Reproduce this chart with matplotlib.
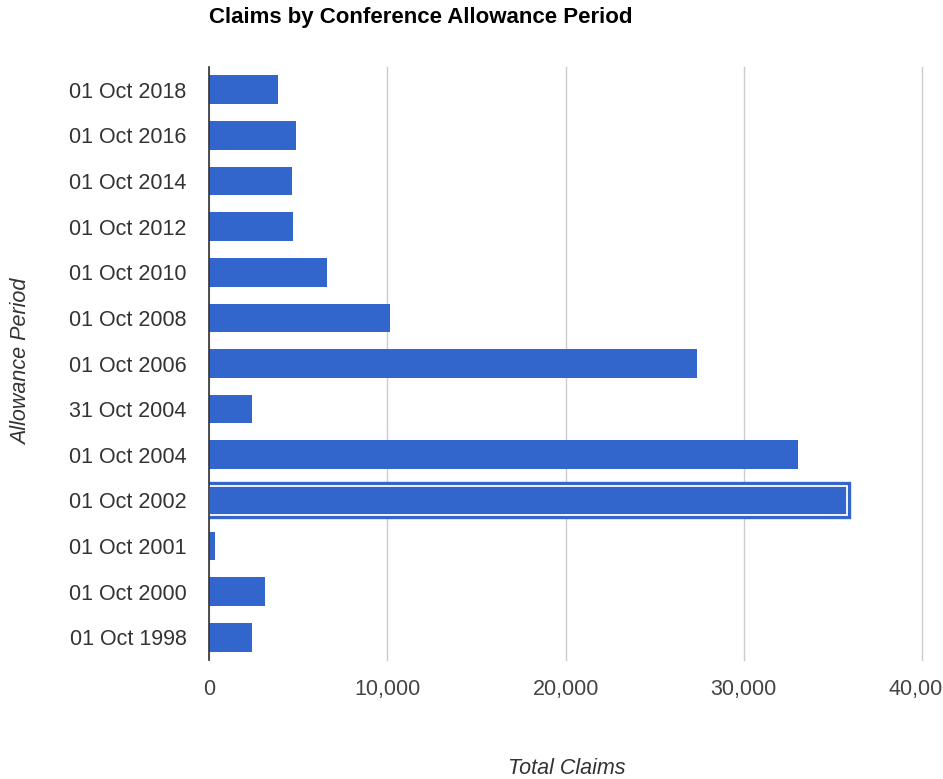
import matplotlib
matplotlib.use("Agg")
import matplotlib.pyplot as plt
import matplotlib.patheffects as pe
from matplotlib.ticker import FuncFormatter

categories = ["01 Oct 2018", "01 Oct 2016", "01 Oct 2014", "01 Oct 2012", "01 Oct 2010",
              "01 Oct 2008", "01 Oct 2006", "31 Oct 2004", "01 Oct 2004", "01 Oct 2002",
              "01 Oct 2001", "01 Oct 2000", "01 Oct 1998"]
claims = [3850, 4840, 4630, 4720, 6620, 10140, 27350, 2390, 33060, 35800, 320, 3120, 2390]
xticks = [0, 10000, 20000, 30000, 40000]
highlight = "01 Oct 2002"

plt.rcParams['font.family'] = ['Liberation Sans', 'DejaVu Sans']
blue = "#3366cc"
W, H = 943, 779

fig = plt.figure(figsize=(W / 100, H / 100), dpi=100)
ax = fig.add_axes([209.3 / W, 1 - 660 / H, (922 - 209.3) / W, (660 - 67) / H])

y = list(range(len(categories)))
bars = ax.barh(y, claims, height=0.63, color=blue, zorder=3)
for b, c in zip(bars, categories):
    if c == highlight:
        b.set_edgecolor("white")
        b.set_linewidth(1.3)
        b.set_path_effects([pe.Stroke(linewidth=6, foreground=blue), pe.Normal()])

ax.set_ylim(len(categories) - 0.5, -0.5)
ax.set_yticks(y)
ax.set_yticklabels(categories, fontsize=15.5, color="#333333")
ax.set_xlim(0, 40000)
ax.set_xticks(xticks)
ax.xaxis.set_major_formatter(FuncFormatter(lambda v, p: f"{int(v):,}"))
for lab in ax.get_xticklabels():
    lab.set_fontsize(15.5)
    lab.set_color("#444444")
ax.tick_params(axis='both', length=0)
ax.tick_params(axis='y', pad=16.5)
ax.tick_params(axis='x', pad=14)
ax.grid(axis='x', color="#cccccc", linewidth=1, zorder=0)
for gl in ax.get_xgridlines():
    gl.set_clip_on(False)
for s in ["top", "right", "bottom"]:
    ax.spines[s].set_visible(False)
ax.spines["left"].set_color("#333333")
ax.spines["left"].set_linewidth(1.2)
ax.spines["left"].set_zorder(4)

fig.text(567 / W, 1 - 768 / H, "Total Claims", fontsize=15.5, style="italic",
         color="#333333", ha="center", va="center")
fig.text(22 / W, 1 - 362 / H, "Allowance Period", fontsize=15.5, style="italic",
         color="#333333", ha="center", va="center", rotation=90)
fig.text(209 / W, 1 - 18 / H, "Claims by Conference Allowance Period", fontsize=16,
         fontweight="bold", color="#000000", va="center", ha="left")

fig.savefig("out.png", dpi=100)
